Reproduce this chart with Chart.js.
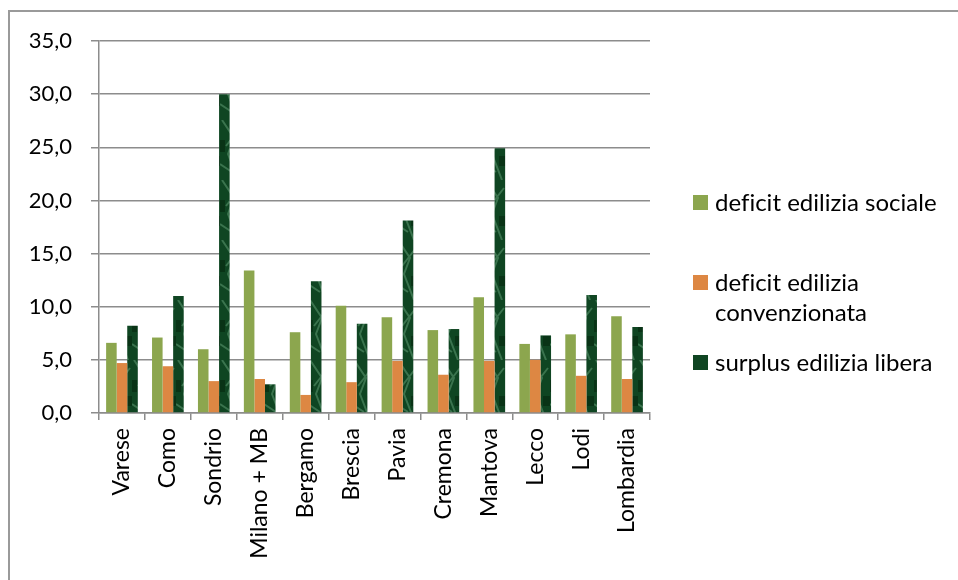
<!DOCTYPE html>
<html>
<head>
<meta charset="utf-8">
<script src="https://cdn.jsdelivr.net/npm/chart.js@4.4.1/dist/chart.umd.min.js"></script>
<style>
    body { margin: 0; background: #fff; font-family: 'Lato', sans-serif; }
    .wrap { position: relative; width: 958px; height: 580px; overflow: hidden; }
    .frame { position: absolute; left: 8px; top: 10px; width: 1000px; height: 700px;
             border-left: 2px solid #9a9a9a; border-top: 2px solid #9a9a9a; }
    canvas { position: absolute; left: 0; top: 0; }
    .legend { position: absolute; left: 693px; top: 0; font-size: 24px; color: #000;
              font-variant-ligatures: none; }
    .item { position: absolute; left: 0; white-space: nowrap; line-height: 30px; }
    .sw { position: absolute; left: 0; top: 8px; width: 15px; height: 15px; }
    .txt { position: absolute; left: 22px; top: 0; }
</style>
</head>
<body>
<div class="wrap">
    <div class="frame"></div>
    <canvas id="chart" width="958" height="580"></canvas>
    <div class="legend" id="legend"></div>
</div>
<script>
// Data
const province = ['Varese', 'Como', 'Sondrio', 'Milano + MB', 'Bergamo', 'Brescia',
                  'Pavia', 'Cremona', 'Mantova', 'Lecco', 'Lodi', 'Lombardia'];
const deficitSociale = [6.6, 7.1, 6.0, 13.4, 7.6, 10.1, 9.0, 7.8, 10.9, 6.5, 7.4, 9.1];
const deficitConvenzionata = [4.7, 4.4, 3.0, 3.2, 1.7, 2.9, 4.9, 3.6, 4.9, 5.0, 3.5, 3.2];
const surplusLibera = [8.2, 11.0, 30.0, 2.7, 12.4, 8.4, 18.1, 7.9, 24.9, 7.3, 11.1, 8.1];
const seriesNames = ['deficit edilizia sociale', ['deficit edilizia', 'convenzionata'], 'surplus edilizia libera'];
const yTicks = [0, 5, 10, 15, 20, 25, 30, 35];

// marble-ish texture for the dark green series
function makeTexture() {
    const c = document.createElement('canvas');
    c.width = 22; c.height = 60;
    const g = c.getContext('2d');
    g.fillStyle = '#0f4522';
    g.fillRect(0, 0, 22, 60);
    g.strokeStyle = 'rgba(110,170,130,0.45)';
    g.lineWidth = 2;
    g.beginPath();
    g.moveTo(2, 0); g.lineTo(14, 18); g.lineTo(8, 34); g.lineTo(18, 60);
    g.moveTo(20, 8); g.lineTo(6, 26);
    g.moveTo(0, 44); g.lineTo(12, 52);
    g.stroke();
    g.fillStyle = 'rgba(5,40,15,0.6)';
    g.fillRect(0, 20, 5, 12);
    g.fillRect(15, 36, 7, 10);
    return g.createPattern(c, 'repeat');
}

const greenCol = '#8ca64e';
const orangeCol = '#dd8743';
const texture = makeTexture();
const colors = [greenCol, orangeCol, texture];

new Chart(document.getElementById('chart'), {
    type: 'bar',
    data: {
        labels: province,
        datasets: [
            { label: 'deficit edilizia sociale', data: deficitSociale, backgroundColor: greenCol },
            { label: 'deficit edilizia convenzionata', data: deficitConvenzionata, backgroundColor: orangeCol },
            { label: 'surplus edilizia libera', data: surplusLibera, backgroundColor: texture }
        ]
    },
    options: {
        responsive: false,
        animation: false,
        layout: { padding: { left: 0, right: 308, top: 41, bottom: 0 } },
        datasets: { bar: { barPercentage: 1, categoryPercentage: 0.69 } },
        scales: {
            y: {
                min: 0,
                max: 35,
                afterBuildTicks: (s) => { s.ticks = yTicks.map(v => ({ value: v })); },
                afterFit: (s) => { s.width = 99; },
                border: { color: '#8c8c8c', width: 1.5 },
                grid: { color: '#8c8c8c', lineWidth: 1.5, tickLength: 8 },
                ticks: {
                    color: '#000',
                    padding: 19,
                    font: { family: 'Lato', size: 22 },
                    callback: (v) => v.toFixed(1).replace('.', ',')
                }
            },
            x: {
                afterFit: (s) => { s.height = 167; },
                border: { color: '#8c8c8c', width: 1.5 },
                grid: { color: '#8c8c8c', lineWidth: 1.5, drawOnChartArea: false, tickLength: 7, offset: true },
                ticks: {
                    color: '#000',
                    padding: 8,
                    minRotation: 90,
                    maxRotation: 90,
                    autoSkip: false,
                    font: { family: 'Lato', size: 23 }
                }
            }
        },
        plugins: {
            legend: { display: false },
            tooltip: { enabled: false }
        }
    }
});

// HTML legend on the right
const legend = document.getElementById('legend');
const tops = [187, 267, 347];
seriesNames.forEach((name, i) => {
    const item = document.createElement('div');
    item.className = 'item';
    item.style.top = tops[i] + 'px';
    const sw = document.createElement('div');
    sw.className = 'sw';
    sw.style.background = i === 2 ? '#0f4522' : colors[i];
    const txt = document.createElement('div');
    txt.className = 'txt';
    txt.innerHTML = Array.isArray(name) ? name.join('<br>') : name;
    item.appendChild(sw);
    item.appendChild(txt);
    legend.appendChild(item);
});
</script>
</body>
</html>
